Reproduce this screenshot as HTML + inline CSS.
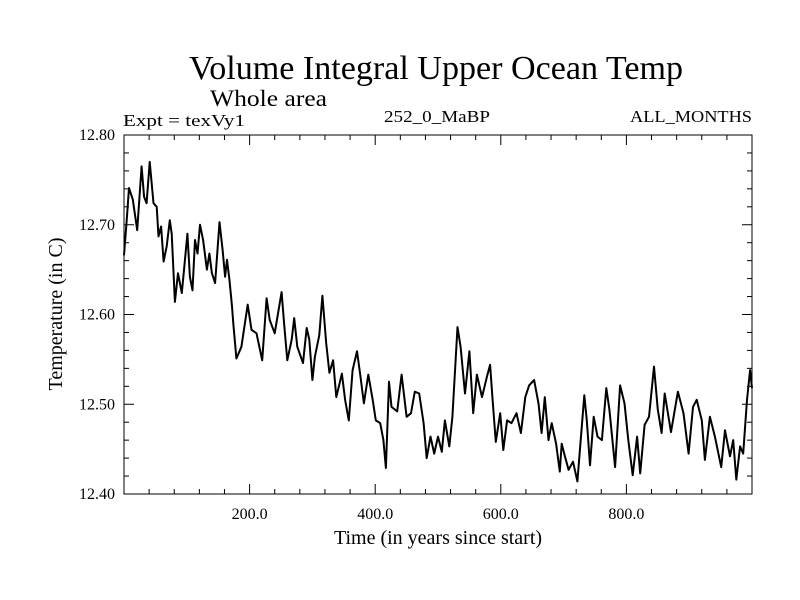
<!DOCTYPE html>
<html><head><meta charset="utf-8"><style>
html,body{margin:0;padding:0;background:#fff;}
svg{display:block;font-family:"Liberation Serif",serif;}
</style></head><body>
<svg id="chart" width="800" height="600" viewBox="0 0 800 600" xmlns="http://www.w3.org/2000/svg">
<rect width="800" height="600" fill="#fff"/>
<text x="436" y="79" font-size="34" text-anchor="middle" textLength="494" lengthAdjust="spacingAndGlyphs">Volume Integral Upper Ocean Temp</text>
<text x="210" y="106" font-size="23" textLength="117" lengthAdjust="spacingAndGlyphs">Whole area</text>
<text x="123" y="126" font-size="17" textLength="122" lengthAdjust="spacingAndGlyphs">Expt = texVy1</text>
<text x="384" y="122" font-size="17" textLength="106" lengthAdjust="spacingAndGlyphs">252_0_MaBP</text>
<text x="752" y="122" font-size="17" text-anchor="end" textLength="122" lengthAdjust="spacingAndGlyphs">ALL_MONTHS</text>
<text transform="translate(62,314) rotate(-90)" font-size="20" text-anchor="middle">Temperature (in C)</text>
<text x="438" y="544" font-size="20" text-anchor="middle">Time (in years since start)</text>
<g id="axes"></g>
<path id="series" fill="none" stroke="#000" stroke-width="2" stroke-linejoin="round"/>
<rect x="124" y="135" width="628" height="359" fill="none" stroke="#000" stroke-width="1"/>
</svg>
<script>
const years = [0,4,8,14,21,28,32,36,41,47,52,55,59,63,68,73,76,81,86,92,96,101,105,109,113,117,121,126,132,136,140,145,152,157,161,164,168,172,174,179,187,197,203,211,220,227,232,240,251,255,260,267,271,276,285,291,295,300,304,311,
316,322,327,333,338,347,352,358,364,371,376,382,389,396,401,408,413,417,422,426,435,442,450,457,463,470,477,482,488,494,500,506,511,518,523,531,536,543,550,556,562,570,578,583,587,592,599,604,610,617,625,632,
639,645,653,660,665,670,676,681,688,694,697,702,708,715,722,726,733,737,742,748,754,761,768,773,782,790,797,803,810,817,822,829,836,844,850,856,861,871,882,891,899,906,912,920,925,933,941,951,957,965,970,975,981,986,992,997,1000];
const temps = [12.666,12.702,12.741,12.728,12.694,12.765,12.731,12.724,12.770,12.724,12.720,12.687,12.698,12.659,12.676,12.705,12.690,12.614,12.646,12.624,12.653,12.690,12.642,12.627,12.683,12.668,12.700,12.683,12.650,12.668,12.646,12.635,12.703,12.672,12.642,12.661,12.638,12.609,12.590,12.551,12.564,12.611,12.583,12.579,12.549,12.618,12.594,12.579,12.625,12.590,12.549,12.572,12.596,12.564,12.546,12.585,12.572,12.527,12.553,12.577,
12.621,12.568,12.535,12.549,12.508,12.534,12.505,12.482,12.538,12.559,12.534,12.501,12.533,12.505,12.482,12.479,12.460,12.429,12.525,12.497,12.492,12.533,12.486,12.490,12.514,12.512,12.479,12.440,12.464,12.445,12.464,12.447,12.482,12.453,12.486,12.586,12.564,12.512,12.559,12.490,12.533,12.508,12.531,12.544,12.505,12.458,12.490,12.449,12.482,12.479,12.490,12.468,
12.508,12.521,12.527,12.501,12.468,12.508,12.460,12.479,12.456,12.425,12.456,12.442,12.427,12.436,12.414,12.449,12.510,12.482,12.432,12.486,12.464,12.460,12.518,12.494,12.430,12.521,12.501,12.460,12.421,12.464,12.423,12.477,12.486,12.542,12.494,12.468,12.512,12.469,12.514,12.490,12.445,12.497,12.505,12.482,12.438,12.486,12.464,12.430,12.471,12.442,12.460,12.416,12.453,12.445,12.505,12.538,12.518];
const xTickLabels = ["200.0","400.0","600.0","800.0"];
const xMajorTicks = [200,400,600,800];
const yTickLabels = ["12.40","12.50","12.60","12.70","12.80"];
const yMajorTicks = [12.4,12.5,12.6,12.7,12.8];

const X0=124,X1=752,Y0=494,Y1=135,XMIN=0,XMAX=1000,YMIN=12.4,YMAX=12.8;
function xs(v){return X0+(v-XMIN)/(XMAX-XMIN)*(X1-X0);}
function ys(v){return Y0-(v-YMIN)/(YMAX-YMIN)*(Y0-Y1);}
const NS="http://www.w3.org/2000/svg";
const axes=document.getElementById('axes');
function line(x1,y1,x2,y2){const l=document.createElementNS(NS,'line');l.setAttribute('x1',x1);l.setAttribute('y1',y1);l.setAttribute('x2',x2);l.setAttribute('y2',y2);l.setAttribute('stroke','#000');l.setAttribute('stroke-width','1');


axes.appendChild(l);}
function txt(x,y,s,anchor){const t=document.createElementNS(NS,'text');t.setAttribute('x',x);t.setAttribute('y',y);t.setAttribute('font-size','16');t.setAttribute('text-anchor',anchor);t.textContent=s;


axes.appendChild(t);}
for(let v=40;v<XMAX;v+=40){const x=xs(v);const maj=xMajorTicks.includes(v);const L=maj?10:5;line(x,Y0,x,Y0-L);line(x,Y1,x,Y1+L);}
for(let i=0;i<=20;i++){const v=YMIN+i*0.02;const y=ys(v);const maj=i%5===0;const L=maj?10:5;line(X0,y,X0+L,y);line(X1,y,X1-L,y);}
xMajorTicks.forEach((v,i)=>txt(xs(v),519,xTickLabels[i],'middle'));
yMajorTicks.forEach((v,i)=>txt(115,ys(v)+5,yTickLabels[i],'end'));
let d='';years.forEach((yr,i)=>{d+=(i?'L':'M')+xs(yr).toFixed(1)+' '+ys(temps[i]).toFixed(1);});
document.getElementById('series').setAttribute('d',d);
</script>
</body></html>
